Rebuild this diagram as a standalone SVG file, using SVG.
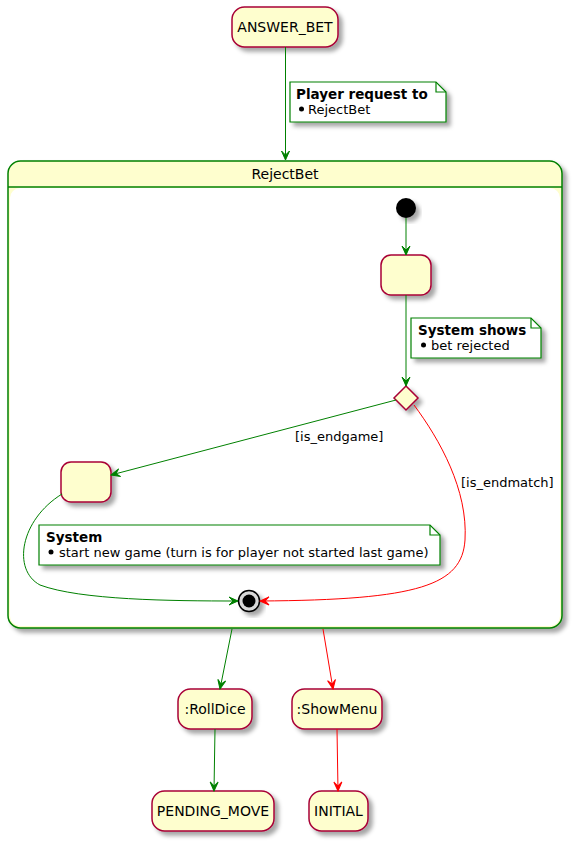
<svg xmlns="http://www.w3.org/2000/svg" width="573" height="843" viewBox="0 0 573 843">
<style>
.st{fill:#FEFECE;stroke:#A80036;stroke-width:1.5;filter:url(#sh)}
.note{fill:#FFFFFF;stroke:#008000;stroke-width:1.2;filter:url(#sh)}
.t{font-family:"DejaVu Sans",sans-serif;font-size:14px;fill:#000;text-anchor:middle}
.nb{font-family:"DejaVu Sans",sans-serif;font-size:13.5px;font-weight:bold;fill:#000}
.nt{font-family:"DejaVu Sans",sans-serif;font-size:13px;fill:#000}
.g{fill:none;stroke:#008000;stroke-width:1;marker-end:url(#ag)}
.r{fill:none;stroke:#FF0000;stroke-width:1;marker-end:url(#ar)}
</style>
<defs>
<filter id="sh" x="-20%" y="-20%" width="150%" height="150%">
<feGaussianBlur in="SourceAlpha" stdDeviation="2"/>
<feOffset dx="4" dy="4" result="b"/>
<feFlood flood-color="#000" flood-opacity="0.35"/>
<feComposite in2="b" operator="in"/>
<feMerge><feMergeNode/><feMergeNode in="SourceGraphic"/></feMerge>
</filter>
<marker id="ag" viewBox="-10 -5 11 10" refX="0" refY="0" markerWidth="11" markerHeight="10" orient="auto" markerUnits="userSpaceOnUse"><path d="M0,0 L-9,-4 L-5,0 L-9,4 Z" fill="#008000" stroke="#008000" stroke-width="1"/></marker>
<marker id="ar" viewBox="-10 -5 11 10" refX="0" refY="0" markerWidth="11" markerHeight="10" orient="auto" markerUnits="userSpaceOnUse"><path d="M0,0 L-9,-4 L-5,0 L-9,4 Z" fill="#FF0000" stroke="#FF0000" stroke-width="1"/></marker>
</defs>
<rect width="573" height="843" fill="#FFFFFF"/>

<g id="RejectBet">
<rect x="8" y="161" width="554" height="467" rx="12.5" fill="#FEFECE" stroke="#008000" stroke-width="1.5" filter="url(#sh)"/>
<rect x="10" y="188" width="550" height="438" rx="10" fill="#FFFFFF"/>
<line x1="8" y1="187" x2="562" y2="187" stroke="#008000" stroke-width="1.5"/>
<text class="t" x="285" y="179">RejectBet</text>
</g>

<g id="ANSWER_BET">
<rect class="st" x="232" y="7" width="106" height="40" rx="12.5"/>
<text class="t" x="285" y="32">ANSWER_BET</text>
</g>

<g id="note1">
<path class="note" d="M290,82 L436,82 L446,92 L446,122 L290,122 Z"/>
<path d="M436,82 L436,92 L446,92" fill="none" stroke="#008000" stroke-width="1.2"/>
<text class="nb" x="296" y="99">Player request to</text>
<circle cx="301.5" cy="109" r="2.5" fill="#000"/>
<text class="nt" x="308" y="114">RejectBet</text>
</g>

<g id="start">
<circle cx="406" cy="208" r="10" fill="#000" filter="url(#sh)"/>
</g>

<g id="state1">
<rect class="st" x="381" y="255" width="50" height="40" rx="10"/>
</g>

<g id="note2">
<path class="note" d="M411,318 L531,318 L541,328 L541,358 L411,358 Z"/>
<path d="M531,318 L531,328 L541,328" fill="none" stroke="#008000" stroke-width="1.2"/>
<text class="nb" x="418" y="335">System shows</text>
<circle cx="423.5" cy="345" r="2.5" fill="#000"/>
<text class="nt" x="431" y="350">bet rejected</text>
</g>

<g id="choice">
<polygon points="406,386 418,398 406,410 394,398" fill="#FEFECE" stroke="#A80036" stroke-width="1.5" filter="url(#sh)"/>
</g>

<g id="state2">
<rect class="st" x="61" y="462" width="50" height="40" rx="10"/>
</g>

<g id="note3">
<path class="note" d="M39,525 L430,525 L440,535 L440,565 L39,565 Z"/>
<path d="M430,525 L430,535 L440,535" fill="none" stroke="#008000" stroke-width="1.2"/>
<text class="nb" x="46" y="542">System</text>
<circle cx="51" cy="552" r="2.5" fill="#000"/>
<text class="nt" x="59" y="557">start new game (turn is for player not started last game)</text>
</g>

<g id="end">
<circle cx="249" cy="601" r="10.5" fill="#D8D8D8" stroke="#000" stroke-width="1.5" filter="url(#sh)"/>
<circle cx="249" cy="601" r="6.5" fill="#000"/>
</g>

<g id="RollDice">
<rect class="st" x="178" y="689" width="74" height="40" rx="12.5"/>
<text class="t" x="215" y="714">:RollDice</text>
</g>
<g id="ShowMenu">
<rect class="st" x="292" y="689" width="90" height="40" rx="12.5"/>
<text class="t" x="337" y="714">:ShowMenu</text>
</g>
<g id="PENDING_MOVE">
<rect class="st" x="152" y="791" width="122" height="40" rx="12.5"/>
<text class="t" x="213" y="816">PENDING_MOVE</text>
</g>
<g id="INITIAL">
<rect class="st" x="309" y="791" width="59" height="40" rx="12.5"/>
<text class="t" x="338.5" y="816">INITIAL</text>
</g>

<g id="connectors">
<path class="g" d="M285.5,47 L285.5,160"/>
<path class="g" d="M406,218 L406,255"/>
<path class="g" d="M406,295 L406,386"/>
<path class="g" d="M396,400 L111,475"/>
<path class="r" d="M414,405 C440,440 468,490 465,540 C462,585 420,600 260,601"/>
<path class="g" d="M62,494 C20,520 12,570 40,585 C80,600 170,601 238,601"/>
<path class="g" d="M232,629 L220,689"/>
<path class="r" d="M323,629 L333,689"/>
<path class="g" d="M215,729 L214,791"/>
<path class="r" d="M337,729 L338,791"/>
<text class="nt" x="295" y="441">[is_endgame]</text>
<text class="nt" x="461" y="487">[is_endmatch]</text>
</g>
</svg>
